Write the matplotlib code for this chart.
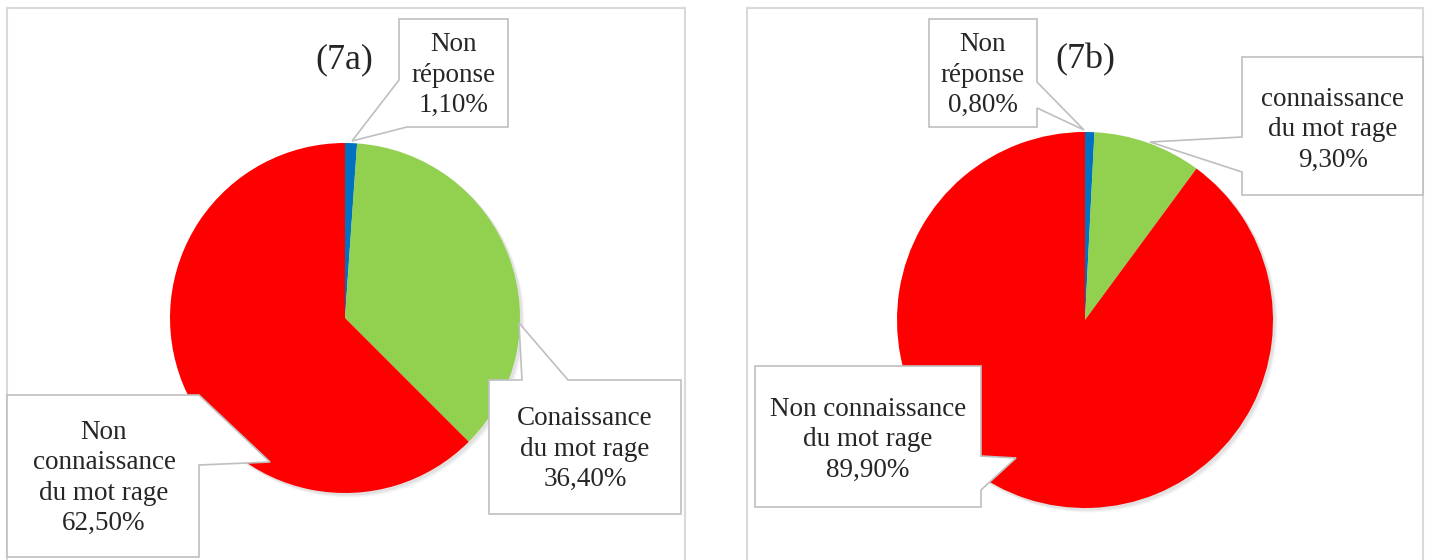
import matplotlib
matplotlib.use("Agg")
import matplotlib.pyplot as plt
from matplotlib.patches import Polygon, Rectangle, Circle
import numpy as np

# ---- data ----
categories_a = ["Non réponse", "Conaissance du mot rage", "Non connaissance du mot rage"]
values_a = [1.10, 36.40, 62.50]
categories_b = ["Non réponse", "connaissance du mot rage", "Non connaissance du mot rage"]
values_b = [0.80, 9.30, 89.90]
colors = ["#0070C0", "#92D050", "#FF0000"]
titles = ["(7a)", "(7b)"]

W, H = 1430, 560
fig = plt.figure(figsize=(W / 100, H / 100), dpi=100)
ax = fig.add_axes([0, 0, 1, 1])

def Y(y):
    return H - y

def fmt(v):
    return f"{v:.2f}".replace(".", ",") + "%"

SERIF = ["Liberation Serif", "DejaVu Serif"]

# pies
pies = [
    dict(vals=values_a, cx=345, cy=318, r=175),
    dict(vals=values_b, cx=1085, cy=320, r=188),
]
for p in pies:
    # soft shadow
    for k, a in [(4, 0.06), (3, 0.08), (2, 0.10)]:
        ax.add_patch(Circle((p["cx"] + k, Y(p["cy"]) - k), p["r"] + 0.5,
                            facecolor="#808080", edgecolor="none", alpha=a, zorder=1.5))
    wedges, _ = ax.pie(p["vals"], colors=colors, startangle=90, counterclock=False,
                       center=(p["cx"], Y(p["cy"])), radius=p["r"],
                       wedgeprops=dict(linewidth=0), frame=True)
    for w in wedges:
        w.set_zorder(2)

# panel borders
for (x0, x1) in [(7, 685), (747, 1423)]:
    ax.add_patch(Rectangle((x0, Y(650)), x1 - x0, 650 - 8, fill=False,
                           edgecolor="#D9D9D9", linewidth=1.5, zorder=1))

# callouts (pixel coords, top-down)
callouts = [
    ([(399, 19), (508, 19), (508, 127), (407, 127), (352, 141), (399, 80)],
     (453.5, 75), f"Non\nréponse\n{fmt(values_a[0])}"),
    ([(489, 380), (522, 380), (519, 323), (568, 380), (681, 380), (681, 514), (489, 514)],
     (585, 449), f"Conaissance\ndu mot rage\n{fmt(values_a[1])}"),
    ([(7, 395), (199, 395), (270, 462), (199, 465), (199, 557), (7, 557)],
     (104, 478), f"Non\nconnaissance\ndu mot rage\n{fmt(values_a[2])}"),
    ([(929, 19), (1037, 19), (1037, 82), (1084, 130), (1037, 108), (1037, 127), (929, 127)],
     (983, 75), f"Non\nréponse\n{fmt(values_b[0])}"),
    ([(1242, 57), (1423, 57), (1423, 195), (1242, 195), (1242, 172), (1150, 142), (1242, 137)],
     (1333, 130), f"connaissance\ndu mot rage\n{fmt(values_b[1])}"),
    ([(755, 366), (981, 366), (981, 456), (1016, 458), (981, 490), (981, 507), (755, 507)],
     (868, 440), f"Non connaissance\ndu mot rage\n{fmt(values_b[2])}"),
]
for pts, (tx, ty), txt in callouts:
    ax.add_patch(Polygon([(x, Y(y)) for x, y in pts], closed=True,
                         facecolor="white", edgecolor="#BFBFBF", linewidth=1.2, zorder=5))
    ax.text(tx, Y(ty), txt, ha="center", va="center", fontsize=19.5,
            family=SERIF, color="#262626", linespacing=1.28, zorder=6)

# titles
ax.text(344, Y(60), titles[0], ha="center", va="center", fontsize=26, family=SERIF, color="#262626", zorder=6)
ax.text(1085, Y(60), titles[1], ha="center", va="center", fontsize=26, family=SERIF, color="#262626", zorder=6)

ax.set_xlim(0, W)
ax.set_ylim(0, H)
ax.set_aspect("auto")
ax.axis("off")

fig.savefig("out.png", dpi=100, facecolor="white")
